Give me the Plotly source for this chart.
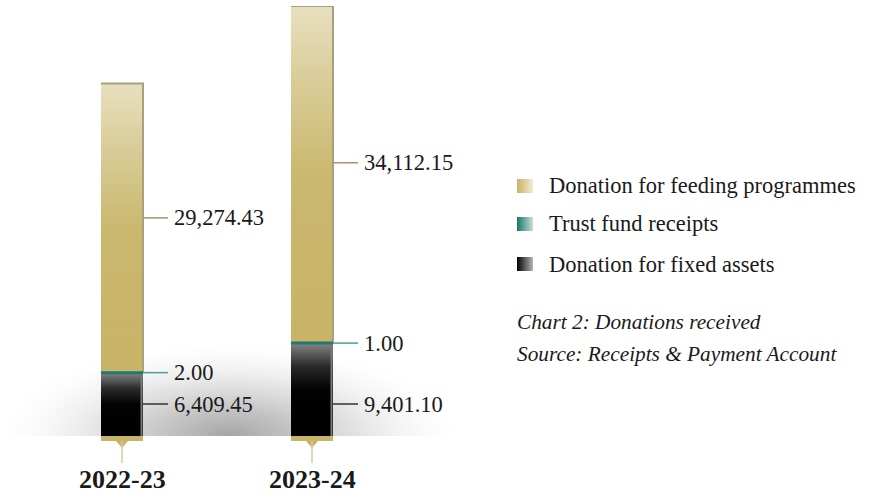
import plotly.graph_objects as go

# ---------------- data ----------------
years = ['2022-23', '2023-24']
fixed_assets = [6409.45, 9401.10]
trust_fund = [2.00, 1.00]
feeding = [29274.43, 34112.15]
series_names = ['Donation for feeding programmes', 'Trust fund receipts', 'Donation for fixed assets']
caption_lines = ['Chart 2: Donations received', 'Source: Receipts & Payment Account']

# ---------------- layout constants ----------------
W, H = 881, 494
MT, MB = 6, 58
PLOT_H = H - MT - MB
BASE_PX = H - MB
PX_PER_CAT = 190.0
X0_PX = 122.0
Y_MAX = 43520.0
HALF = 21 / PX_PER_CAT
FONT = 'Liberation Serif'
TXT = '#1a1a1a'


def ux(px):      # pixel length -> x data units
    return px / PX_PER_CAT


def uy(px):      # pixel length -> y data units
    return px * Y_MAX / PLOT_H


def paper_y(py):
    return (BASE_PX - py) / PLOT_H


def paper_x(px):
    return px / W


fig = go.Figure()

# soft shadow behind bars (clipped at baseline)
cx = (len(years) - 1) / 2 + ux(12)
fig.add_trace(go.Scatter(
    x=[cx - ux(235), cx + ux(235), cx + ux(235), cx - ux(235), cx - ux(235)],
    y=[-uy(95), -uy(95), uy(95), uy(95), -uy(95)],
    mode='lines', line=dict(width=0), fill='toself',
    fillgradient=dict(type='radial', colorscale=[
        [0, 'rgba(165,165,165,1)'], [0.3, 'rgba(192,192,192,0.9)'],
        [0.55, 'rgba(215,215,215,0.7)'], [0.8, 'rgba(238,238,238,0.4)'],
        [1, 'rgba(255,255,255,0)']]),
    hoverinfo='skip', showlegend=False))

for i, yr in enumerate(years):
    c = i
    xl, xr = c - HALF, c + HALF
    f = fixed_assets[i]
    t = trust_fund[i]
    fd = feeding[i]
    base2 = f + t
    top = base2 + fd

    # fixed assets segment
    fig.add_trace(go.Scatter(
        x=[xl, xr, xr, xl, xl], y=[0, 0, f, f, 0], mode='lines', line=dict(width=0),
        fill='toself',
        fillgradient=dict(type='vertical', colorscale=[
            [0, '#000000'], [0.5, '#020202'], [0.75, '#2a2a2a'], [1, '#858585']]),
        hoverinfo='skip', showlegend=False))
    # feeding segment
    fig.add_trace(go.Scatter(
        x=[xl, xr, xr, xl, xl], y=[base2, base2, top, top, base2], mode='lines',
        line=dict(width=0), fill='toself',
        fillgradient=dict(type='vertical', colorscale=[
            [0, '#c8b366'], [0.5, '#cab86f'], [0.75, '#d8ca94'], [1, '#e8dfbf']]),
        hoverinfo='skip', showlegend=False))
    # edges
    fig.add_trace(go.Scatter(x=[xl, xr, xr], y=[top, top, base2], mode='lines',
                             line=dict(color='#ab9f7c', width=2),
                             hoverinfo='skip', showlegend=False))
    fig.add_trace(go.Scatter(x=[xr - ux(1.5), xr - ux(1.5)], y=[0, f], mode='lines',
                             line=dict(color='#7a7a7a', width=2),
                             hoverinfo='skip', showlegend=False))
    # trust fund band
    fig.add_trace(go.Scatter(x=[xl, xr], y=[base2, base2], mode='lines',
                             line=dict(color='#1c7a70', width=3),
                             hoverinfo='skip', showlegend=False))

    # leaders + labels
    lead_end = xr + ux(25)
    txt_x = xr + ux(29)
    feed_y = base2 + 0.535 * fd
    fixed_y = uy(32)
    for yy, col, val in [(feed_y, '#a8946a', fd), (base2, '#4a9e95', t), (fixed_y, '#333333', f)]:
        fig.add_trace(go.Scatter(x=[xr, lead_end], y=[yy, yy], mode='lines',
                                 line=dict(color=col, width=1.5),
                                 hoverinfo='skip', showlegend=False))
        fig.add_annotation(x=txt_x, y=yy, xref='x', yref='y', text=f'{val:,.2f}',
                           showarrow=False, xanchor='left', yanchor='middle',
                           font=dict(family=FONT, size=22.5, color=TXT))

    # base strip, notch and tick below the bar
    fig.add_shape(type='rect', xref='x', yref='paper', x0=xl, x1=xr,
                  y0=paper_y(441), y1=0, fillcolor='#c8b366', line=dict(width=0))
    fig.add_shape(type='path', xref='x', yref='paper',
                  path=f'M {c - ux(6)},{paper_y(441)} L {c + ux(6)},{paper_y(441)} L {c},{paper_y(448)} Z',
                  fillcolor='#c8b366', line=dict(width=0))
    fig.add_shape(type='line', xref='x', yref='paper', x0=c, x1=c,
                  y0=paper_y(441), y1=paper_y(463), line=dict(color='#d8cb98', width=1.5))
    fig.add_annotation(x=c, y=paper_y(479), xref='x', yref='paper', text=f'<b>{yr}</b>',
                       showarrow=False, xanchor='center', yanchor='middle',
                       font=dict(family=FONT, size=26, color=TXT))

# ---------------- legend (pixel overlay axes) ----------------
sw_colors = [
    [[0, '#c8b366'], [1, '#f1ead2']],
    [[0, '#16766c'], [1, '#c4dfdb']],
    [[0, '#000000'], [1, '#b5b5b5']],
]
leg_y = [186, 224, 264]
for name, cs, yc in zip(series_names, sw_colors, leg_y):
    fig.add_trace(go.Scatter(
        x=[517, 533, 533, 517, 517], y=[yc - 7, yc - 7, yc + 7, yc + 7, yc - 7],
        xaxis='x2', yaxis='y2', mode='lines', line=dict(width=0), fill='toself',
        fillgradient=dict(type='horizontal', colorscale=cs),
        hoverinfo='skip', showlegend=False))
    fig.add_annotation(x=paper_x(547), y=paper_y(yc), xref='paper', yref='paper',
                       text=name, showarrow=False, xanchor='left', yanchor='middle',
                       font=dict(family=FONT, size=22.5, color=TXT))

for line, yc in zip(caption_lines, [322, 354]):
    fig.add_annotation(x=paper_x(515), y=paper_y(yc), xref='paper', yref='paper',
                       text=f'<i>{line}</i>', showarrow=False, xanchor='left',
                       yanchor='middle', font=dict(family=FONT, size=21.3, color=TXT))

fig.update_layout(
    width=W, height=H,
    margin=dict(l=0, r=0, t=MT, b=MB, pad=0),
    paper_bgcolor='white', plot_bgcolor='rgba(0,0,0,0)',
    xaxis=dict(domain=[0, 1], range=[-X0_PX / PX_PER_CAT, (W - X0_PX) / PX_PER_CAT],
               visible=False, fixedrange=True),
    yaxis=dict(domain=[0, 1], range=[0, Y_MAX], visible=False, fixedrange=True),
    xaxis2=dict(domain=[0, 1], range=[0, W], visible=False, anchor='y2', fixedrange=True),
    yaxis2=dict(domain=[0, 1], range=[BASE_PX, MT], visible=False, anchor='x2', fixedrange=True),
    showlegend=False,
    hovermode=False,
)

fig.write_html('out.html', config={'displayModeBar': False, 'staticPlot': True},
               post_script="document.body.style.margin='0';document.body.style.overflow='hidden';")
